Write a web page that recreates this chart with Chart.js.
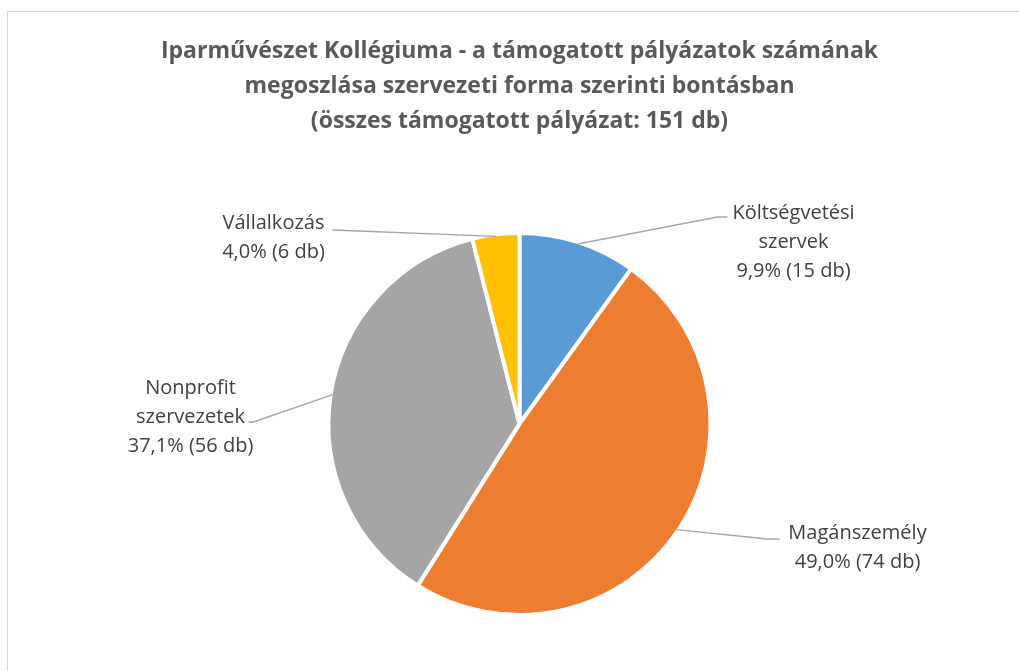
<!DOCTYPE html>
<html lang="hu">
<head>
<meta charset="utf-8">
<title>Iparművészet Kollégiuma</title>
<script src="https://cdn.jsdelivr.net/npm/chart.js@4/dist/chart.umd.min.js"></script>
<style>
  html, body { margin: 0; padding: 0; background: #fff; overflow: hidden; }
  #wrap { position: relative; width: 1019px; height: 671px; }
  #frame { position: absolute; left: 7px; top: 11px; width: 1040px; height: 700px; border: 1px solid #d9d9d9; }
  #c { position: absolute; left: 0; top: 0; }
</style>
</head>
<body>
<div id="wrap">
  <div id="frame"></div>
  <canvas id="c" width="1019" height="671"></canvas>
</div>
<script>
/* data */
const categories = ["Költségvetési szervek", "Magánszemély", "Nonprofit szervezetek", "Vállalkozás"];
const counts = [15, 74, 56, 6];
const colors = ["#5B9BD5", "#ED7D31", "#A5A5A5", "#FFC000"];
const titleLines = [
  "Iparművészet Kollégiuma - a támogatott pályázatok számának",
  "megoszlása szervezeti forma szerinti bontásban",
  "(összes támogatott pályázat: 151 db)"
];

const total = counts.reduce((a, b) => a + b, 0);
const pct = v => (v / total * 100).toFixed(1).replace(".", ",") + "%";

// label text lines + where they sit relative to pie centre (px)
const labelSetup = [
  { lines: ["Költségvetési", "szervek"], x: 274, y: -211, elbow: [198, -207], end: [208, -207] },
  { lines: ["Magánszemély"], x: 338, y: 109, elbow: [248, 115], end: [260, 115] },
  { lines: ["Nonprofit", "szervezetek"], x: -329, y: -36, elbow: [-266, -2], end: [-271, -2] },
  { lines: ["Vállalkozás"], x: -246, y: -201, elbow: [-187, -194], end: [-187, -194] }
];

const labelPlugin = {
  id: "leaderLabels",
  afterDatasetsDraw(chart) {
    const ctx = chart.ctx;
    const meta = chart.getDatasetMeta(0);
    ctx.save();
    meta.data.forEach((arc, i) => {
      const L = labelSetup[i];
      const mid = (arc.startAngle + arc.endAngle) / 2;
      const ax = arc.x + Math.cos(mid) * (arc.outerRadius - 2);
      const ay = arc.y + Math.sin(mid) * (arc.outerRadius - 2);
      ctx.strokeStyle = "#a6a6a6";
      ctx.lineWidth = 1.4;
      ctx.beginPath();
      ctx.moveTo(ax, ay);
      ctx.lineTo(arc.x + L.elbow[0], arc.y + L.elbow[1]);
      ctx.lineTo(arc.x + L.end[0], arc.y + L.end[1]);
      ctx.stroke();
      const lines = L.lines.concat([pct(counts[i]) + " (" + counts[i] + " db)"]);
      ctx.fillStyle = "#404040";
      ctx.font = "20px 'Open Sans'";
      ctx.textAlign = "center";
      ctx.textBaseline = "middle";
      lines.forEach((t, k) => ctx.fillText(t, arc.x + L.x, arc.y + L.y + k * 29));
    });
    ctx.restore();
  }
};

new Chart(document.getElementById("c"), {
  type: "pie",
  data: {
    labels: categories,
    datasets: [{
      data: counts,
      backgroundColor: colors,
      borderColor: "#ffffff",
      borderWidth: 4,
      hoverOffset: 0
    }]
  },
  options: {
    responsive: false,
    animation: false,
    layout: { padding: { left: 20, top: 0, bottom: 54 } },
    plugins: {
      legend: { display: false },
      tooltip: { enabled: false },
      title: {
        display: true,
        text: titleLines,
        color: "#595959",
        font: { family: "'Open Sans'", size: 23, weight: "bold", lineHeight: 1.52 },
        padding: { top: 34, bottom: 92 }
      }
    }
  },
  plugins: [labelPlugin]
});
</script>
</body>
</html>
